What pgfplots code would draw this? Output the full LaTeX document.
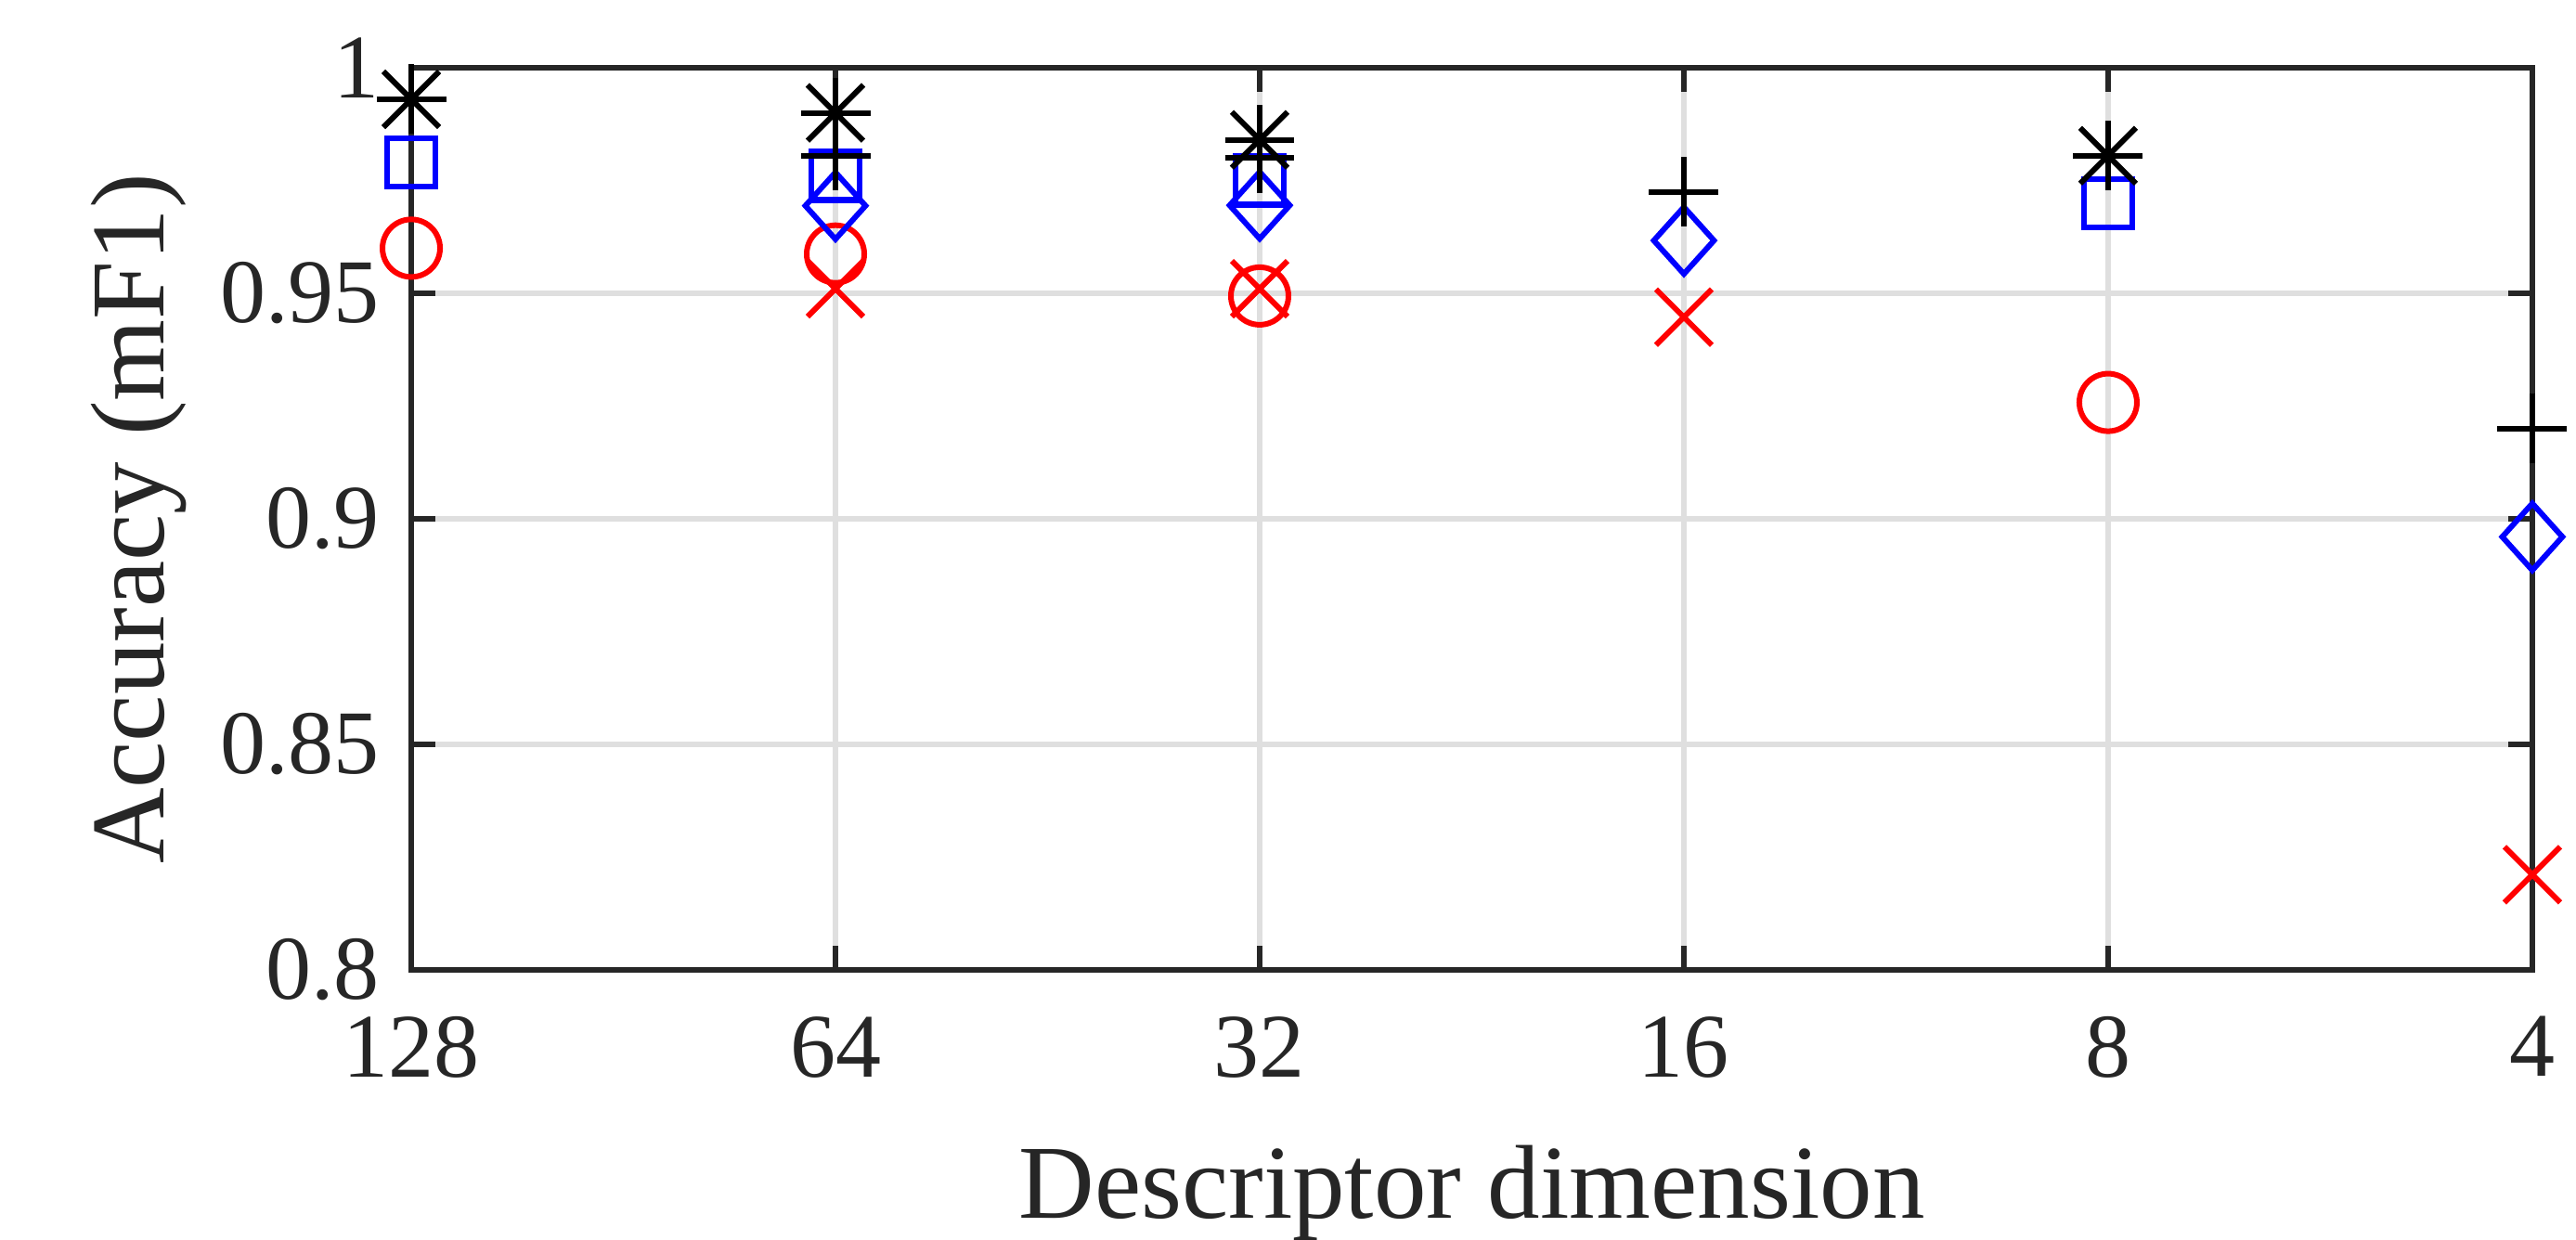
\documentclass[border=0pt]{standalone}
\usepackage{fontspec}
\setmainfont{Liberation Serif}
\usepackage{pgfplots}
\pgfplotsset{compat=1.18}
\definecolor{axgray}{RGB}{38,38,38}
\definecolor{gridgray}{RGB}{223,223,223}
\begin{document}
\begin{tikzpicture}
\begin{axis}[
width=457pt, height=194.4pt, scale only axis,
xmin=1, xmax=6, ymin=0.8, ymax=1,
xtick={1,2,3,4,5,6}, xticklabels={128,64,32,16,8,4},
ytick={0.8,0.85,0.9,0.95,1}, yticklabels={0.8,0.85,0.9,0.95,1},
grid=major, grid style={gridgray, line width=1.1pt},
axis line style={axgray, line width=1.3pt},
tick style={axgray, line width=1.3pt},
tick align=inside, major tick length=5.2pt,
tick label style={font=\fontsize{19.6}{22}\selectfont, text=axgray},
xticklabel style={yshift=-6.5pt},
yticklabel style={xshift=-3.3pt},
label style={font=\fontsize{22.6}{26}\selectfont, text=axgray},
xlabel={Descriptor dimension},
ylabel={Accuracy (mF1)},
xlabel style={at={(axis description cs:0.5,-0.2757)}, anchor=base},
ylabel style={at={(axis description cs:-0.1168,0.5)}, anchor=base, rotate=0},
clip=false,
mark options={solid},
]
% red circles
\addplot[only marks, red, mark=o, mark size=6.2pt, line width=1.2pt] coordinates {
  (1,0.960) (2,0.9587) (3,0.9494) (5,0.9258)
};
% red crosses
\addplot[only marks, red, mark=x, mark size=8.5pt, line width=1.2pt] coordinates {
  (2,0.951) (3,0.951) (4,0.9447) (6,0.8211)
};
% blue squares
\addplot[only marks, blue, mark=square, mark size=5.2pt, line width=1.3pt] coordinates {
  (1,0.979) (2,0.976) (3,0.975) (5,0.970)
};
% blue diamonds
\addplot[only marks, blue, mark=diamond, mark size=7.2pt, line width=1.2pt,
  mark options={xscale=1.2}] coordinates {
  (2,0.9694) (3,0.9695) (4,0.9617) (6,0.896)
};
% black plus
\addplot[only marks, black, mark=+, mark size=7.5pt, line width=1.2pt] coordinates {
  (2,0.9805) (3,0.980) (4,0.9725) (6,0.920)
};
% black asterisks (plus and cross overlaid, as in MATLAB)
\addplot[only marks, black, mark=+, mark size=7.5pt, line width=1.2pt] coordinates {
  (1,0.993) (2,0.990) (3,0.984) (5,0.9805)
};
\addplot[only marks, black, mark=x, mark size=8.5pt, line width=1.2pt] coordinates {
  (1,0.993) (2,0.990) (3,0.984) (5,0.9805)
};
\coordinate (bl) at (axis description cs:-0.1939,-0.2984);
\coordinate (tr) at (axis description cs:1.0206,1.0751);
\end{axis}
\pgfresetboundingbox
\path[use as bounding box] (bl) rectangle (tr);
\end{tikzpicture}
\end{document}
